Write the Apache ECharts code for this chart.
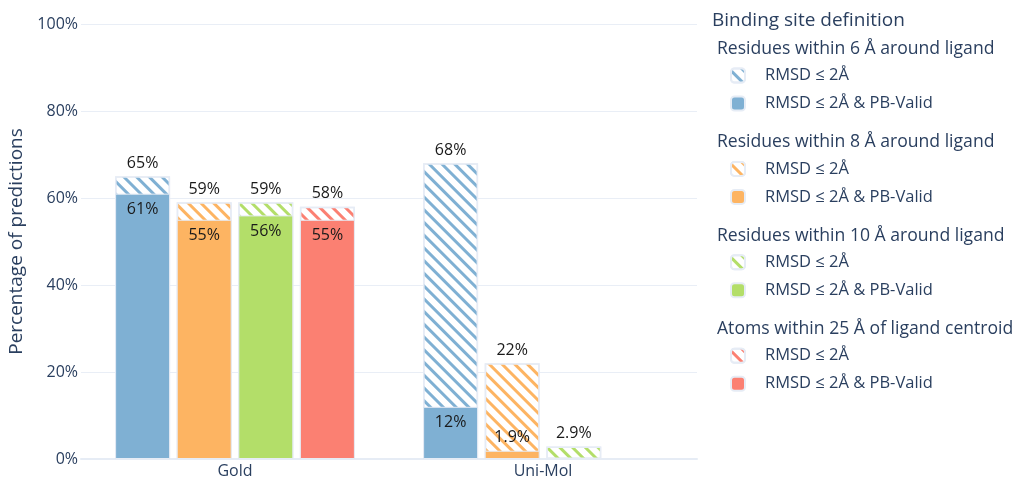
<!DOCTYPE html>
<html>
<head>
<meta charset="utf-8">
<script src="https://cdn.jsdelivr.net/npm/echarts@6/dist/echarts.min.js"></script>
<style>
  html, body { margin: 0; padding: 0; background: #fff; }
  #chart { width: 1017px; height: 478px; }
</style>
</head>
<body>
<div id="chart"></div>
<script>
var categories = ['Gold', 'Uni-Mol'];
var yTicks = [0, 20, 40, 60, 80, 100];

// RMSD <= 2A (hatched) and RMSD <= 2A & PB-Valid (solid), per binding site definition
var res6All = [65, 68];
var res6Valid = [61, 12];
var res8All = [59, 22];
var res8Valid = [55, 1.9];
var res10All = [59, 2.9];
var res10Valid = [56, null];
var atom25All = [58, null];
var atom25Valid = [55, null];

var groupTitles = [
    'Residues within 6 Å around ligand',
    'Residues within 8 Å around ligand',
    'Residues within 10 Å around ligand',
    'Atoms within 25 Å of ligand centroid'
];
var colors = ['#7FB0D3', '#FDB462', '#B3DE69', '#FB8072'];
var allSets = [res6All, res8All, res10All, atom25All];
var validSets = [res6Valid, res8Valid, res10Valid, atom25Valid];

var textColor = '#2a3f5f';
var font = '"Open Sans", "DejaVu Sans", sans-serif';

function pct(v) {
    return v + '%';
}

var series = [];
var legends = [];
var titles = [{
    text: 'Binding site definition',
    left: 712,
    top: 11,
    padding: 0,
    textStyle: { fontFamily: font, fontSize: 19, fontWeight: 'normal', color: textColor }
}];

for (var i = 0; i < 4; i++) {
    series.push({
        name: 'all' + i,
        type: 'bar',
        xAxisIndex: 0,
        barWidth: 55,
        barGap: '12%',
        data: allSets[i],
        itemStyle: {
            color: '#ffffff',
            borderColor: '#E6ECF5',
            borderWidth: 1.5,
            decal: {
                symbol: 'rect',
                color: colors[i],
                dashArrayX: [1, 0],
                dashArrayY: [3, 6],
                rotation: Math.PI / 4
            }
        },
        label: {
            show: true,
            position: 'top',
            distance: 5,
            fontFamily: font,
            fontSize: 16,
            color: '#1a1a1a',
            formatter: function (p) { return pct(p.value); }
        }
    });
}
for (var j = 0; j < 4; j++) {
    var d = validSets[j].map(function (v) {
        if (v !== null && v < 5) {
            return { value: v, label: { position: 'top', distance: 5 } };
        }
        return v;
    });
    series.push({
        name: 'valid' + j,
        type: 'bar',
        xAxisIndex: 1,
        barWidth: 55,
        barGap: '12%',
        data: d,
        itemStyle: {
            color: colors[j],
            borderColor: '#E6ECF5',
            borderWidth: 1
        },
        label: {
            show: true,
            position: 'insideTop',
            distance: 8,
            fontFamily: font,
            fontSize: 16,
            color: '#1a1a1a',
            formatter: function (p) { return pct(p.value); }
        }
    });
    titles.push({
        text: groupTitles[j],
        left: 717,
        top: 40 + j * 93.4,
        padding: 0,
        textStyle: { fontFamily: font, fontSize: 17.6, fontWeight: 'normal', color: textColor }
    });
    legends.push({
        orient: 'vertical',
        left: 730,
        top: 67 + j * 93.4,
        padding: 0,
        itemWidth: 14,
        itemHeight: 14,
        itemGap: 11,
        selectedMode: false,
        data: ['all' + j, 'valid' + j],
        formatter: function (name) {
            return name.indexOf('all') === 0 ? 'RMSD ≤ 2Å' : 'RMSD ≤ 2Å & PB-Valid';
        },
        textStyle: {
            fontFamily: font,
            fontSize: 16.5,
            lineHeight: 14,
            color: textColor,
            padding: [0, 0, 0, 15]
        }
    });
}

var chart = echarts.init(document.getElementById('chart'));
var option = {
    backgroundColor: '#ffffff',
    animation: false,
    title: titles,
    legend: legends,
    grid: {
        left: 81,
        right: 320,
        top: 24,
        bottom: 19,
        outerBoundsMode: 'none'
    },
    xAxis: [{
        type: 'category',
        data: categories,
        axisTick: { show: false },
        axisLine: { lineStyle: { color: '#E6ECF5', width: 2 } },
        axisLabel: { fontFamily: font, fontSize: 16, color: textColor, margin: 4 }
    }, {
        type: 'category',
        data: categories,
        show: false
    }],
    yAxis: {
        type: 'value',
        min: yTicks[0],
        max: yTicks[yTicks.length - 1],
        interval: 20,
        name: 'Percentage of predictions',
        nameLocation: 'middle',
        nameGap: 52,
        nameTextStyle: { fontFamily: font, fontSize: 19, color: textColor },
        axisLabel: {
            fontFamily: font,
            fontSize: 16,
            color: textColor,
            margin: 3,
            formatter: '{value}%'
        },
        splitLine: { lineStyle: { color: '#E9EEF6', width: 1 } }
    },
    series: series
};
chart.setOption(option);
</script>
</body>
</html>
